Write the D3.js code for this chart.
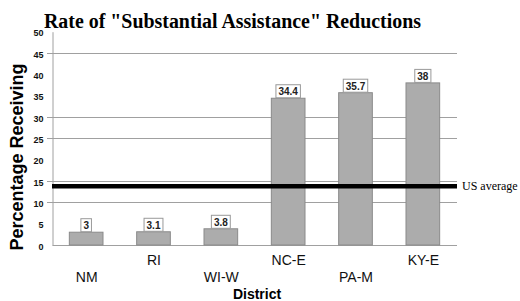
<!DOCTYPE html>
<html><head><meta charset="utf-8">
<script src="https://cdn.jsdelivr.net/npm/d3@7"></script>
<style>body{margin:0;background:#fff}svg{display:block}</style>
</head><body>
<script>
const categories = ["NM","RI","WI-W","NC-E","PA-M","KY-E"];
const values = [3, 3.1, 3.8, 34.4, 35.7, 38];
const yTicks = [0,5,10,15,20,25,30,35,40,45,50];
const gridValues = [45,30,25,15,10];
const usAverage = 13.8;

const W = 520, H = 301;
const svg = d3.select("body").append("svg").attr("width", W).attr("height", H);

const x = d3.scaleBand().domain(categories).range([53, 457]).paddingInner(0.5).paddingOuter(0.25);
const y = d3.scaleLinear().domain([0, 50]).range([245, 31.7]);

// title
svg.append("text").attr("x", 44).attr("y", 28)
  .attr("font-family", "Liberation Serif, Times New Roman, serif")
  .attr("font-weight", "bold").attr("font-size", 20.5)
  .attr("textLength", 377).attr("lengthAdjust", "spacingAndGlyphs")
  .text('Rate of "Substantial Assistance" Reductions');

// grid lines
svg.append("g").selectAll("line").data(gridValues).join("line")
  .attr("x1", 47).attr("x2", 457)
  .attr("y1", d => Math.round(y(d)) + 0.5).attr("y2", d => Math.round(y(d)) + 0.5)
  .attr("stroke", "#a0a0a0").attr("stroke-width", 1);

// y axis
const yAxis = d3.axisLeft(y).tickValues(yTicks).tickSize(0).tickPadding(9);
const gy = svg.append("g").attr("transform", "translate(52.5,0)").call(yAxis);
gy.select(".domain").attr("stroke", "#a0a0a0");
gy.selectAll("text").attr("font-family", "Liberation Sans, Arial, sans-serif")
  .attr("font-weight", "bold").attr("font-size", 9).attr("dy", "0.45em").attr("fill", "#111");

// bottom axis line
svg.append("line").attr("x1", 52.5).attr("x2", 457).attr("y1", 245.5).attr("y2", 245.5)
  .attr("stroke", "#a0a0a0");

// bars
svg.append("g").selectAll("rect").data(values).join("rect")
  .attr("x", (d, i) => x(categories[i]) - 0.5)
  .attr("y", d => y(d))
  .attr("width", x.bandwidth())
  .attr("height", d => 245 - y(d))
  .attr("fill", "#acacac").attr("stroke", "#8a8a8a").attr("stroke-width", 1);

// value labels
const lab = svg.append("g").selectAll("g").data(values).join("g")
  .attr("transform", (d, i) => `translate(${x(categories[i]) + x.bandwidth() / 2 - 0.5},${y(d)})`);
lab.each(function (d) {
  const g = d3.select(this);
  const t = g.append("text").attr("text-anchor", "middle").attr("y", -3)
    .attr("font-family", "Liberation Sans, Arial, sans-serif").attr("font-weight", "bold")
    .attr("font-size", 10).attr("fill", "#222").text(d);
  const w = t.node().getComputedTextLength();
  g.insert("rect", "text").attr("x", -w / 2 - 2.5).attr("y", -13.5).attr("width", w + 5).attr("height", 13)
    .attr("fill", "#fff").attr("stroke", "#999").attr("stroke-width", 1);
});

// US average
svg.append("line").attr("x1", 52).attr("x2", 457).attr("y1", y(usAverage)).attr("y2", y(usAverage))
  .attr("stroke", "#000").attr("stroke-width", 4.5);
svg.append("text").attr("x", 462).attr("y", y(usAverage) + 4)
  .attr("font-family", "Liberation Serif, Times New Roman, serif").attr("font-size", 12)
  .text("US average");

// category labels (staggered)
const xAxis = d3.axisBottom(x).tickSize(0);
const gx = svg.append("g").attr("transform", "translate(0,245)").call(xAxis);
gx.select(".domain").remove();
gx.selectAll("text").attr("font-family", "Liberation Sans, Arial, sans-serif")
  .attr("font-size", 14).attr("fill", "#111").attr("dy", 0)
  .attr("y", (d, i) => i % 2 === 0 ? 37 : 20);

// axis titles
svg.append("text").attr("x", 257).attr("y", 299).attr("text-anchor", "middle")
  .attr("font-family", "Liberation Sans, Arial, sans-serif").attr("font-weight", "bold")
  .attr("font-size", 14).text("District");
svg.append("text").attr("transform", "translate(23,157) rotate(-90)").attr("text-anchor", "middle")
  .attr("font-family", "Liberation Sans, Arial, sans-serif").attr("font-weight", "bold")
  .attr("font-size", 18).text("Percentage Receiving");
</script>
</body></html>
